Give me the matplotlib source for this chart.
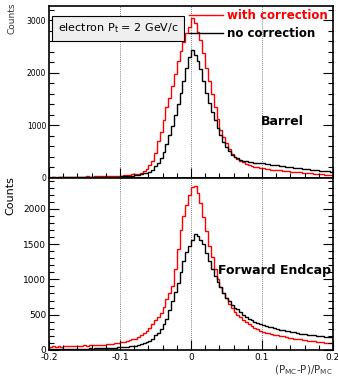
import numpy as np
import matplotlib
matplotlib.use("Agg")
import matplotlib.pyplot as plt
from matplotlib.ticker import MultipleLocator

# histogram range: 100 bins between -0.2 and 0.2
x_lo, x_hi, n_bins = -0.2, 0.2, 100

# barrel, with correction (red)
barrel_corr = [18, 16, 20, 17, 22, 19, 21, 24, 20, 23, 26, 22, 25, 28, 24, 27, 30, 33, 29, 34, 36, 38, 35, 40, 44,
               46, 50, 55, 58, 66, 72, 82, 100, 130, 175, 240, 330, 480,
               700, 880, 1110, 1340, 1530, 1740, 1980, 2230, 2420, 2590, 2760, 2880,
               3040, 2950, 2780, 2620, 2380, 2100, 1850, 1600, 1340, 1120, 920, 780,
               660, 560, 450, 400, 360, 330, 300, 270, 250, 235, 215, 200, 190,
               180, 172, 168, 160, 155, 150, 146, 140, 132, 128, 122, 118, 110, 105, 100, 96, 90, 86, 80, 74,
               70, 66, 60, 58, 52]
# barrel, no correction (black)
barrel_raw = [8, 10, 7, 11, 9, 12, 10, 13, 11, 12, 14, 13, 15, 14, 16, 18, 15, 17, 20, 18, 22, 21, 24, 23, 26,
              28, 30, 33, 38, 42, 50, 58, 70, 85, 100, 120, 160, 220,
              280, 380, 500, 650, 820, 980, 1200, 1410, 1620, 1840, 2100, 2300,
              2430, 2330, 2220, 2080, 1840, 1620, 1420, 1250, 1100, 950, 810, 690,
              590, 510, 430, 400, 370, 345, 330, 315, 300, 295, 285, 275, 280,
              275, 268, 260, 252, 245, 238, 230, 222, 215, 210, 205, 198, 190, 182, 175, 170, 165, 158, 150, 145,
              140, 135, 130, 125, 120]
# forward endcap, with correction (red)
endcap_corr = [45, 48, 44, 50, 47, 52, 50, 55, 53, 58, 56, 60, 62, 59, 64, 66, 68, 72, 70, 76, 80, 84, 88, 95, 100,
               110, 115, 125, 135, 150, 160, 185, 210, 240, 270, 310, 360, 420,
               460, 530, 610, 720, 800, 900, 1150, 1430, 1700, 1900, 2060, 2200,
               2310, 2320, 2220, 2080, 1880, 1680, 1480, 1320, 1150, 1010, 890, 800,
               730, 650, 590, 540, 500, 470, 430, 400, 370, 340, 315, 290, 270,
               255, 245, 235, 225, 215, 205, 198, 190, 182, 175, 168, 160, 155, 148, 142, 136, 130, 125, 120, 115,
               110, 106, 102, 98, 95]
# forward endcap, no correction (black)
endcap_raw = [8, 10, 12, 9, 13, 11, 14, 12, 15, 16, 14, 18, 17, 19, 20, 18, 22, 24, 23, 26, 28, 27, 30, 32, 35,
              38, 40, 44, 48, 55, 60, 68, 80, 95, 110, 125, 160, 210,
              245, 300, 360, 435, 560, 690, 820, 955, 1110, 1260, 1390, 1480,
              1560, 1650, 1610, 1560, 1500, 1380, 1260, 1150, 1050, 960, 890, 810,
              740, 690, 640, 600, 580, 540, 500, 470, 440, 420, 400, 380, 365,
              355, 340, 330, 320, 305, 295, 285, 280, 270, 262, 255, 248, 240, 232, 228, 222, 215, 210, 205, 200,
              196, 192, 188, 185, 180]

panel_names = ["Barrel", "Forward Endcap"]
legend_labels = ["with correction", "no correction"]
x_ticks = [-0.2, -0.1, 0, 0.1, 0.2]
x_tick_labels = ["-0.2", "-0.1", "0", "0.1", "0.2"]

plt.rcParams['font.family'] = ['DejaVu Sans']

edges = np.linspace(x_lo, x_hi, n_bins + 1)

fig = plt.figure(figsize=(3.38, 3.77), dpi=100)
ax_top = fig.add_axes([0.145, 0.528, 0.84, 0.456])
ax_bot = fig.add_axes([0.145, 0.072, 0.84, 0.456])


def style_axes(ax, ymax, major, minor):
    ax.set_xlim(x_lo, x_hi)
    ax.set_ylim(0, ymax)
    ax.xaxis.set_major_locator(MultipleLocator(0.1))
    ax.xaxis.set_minor_locator(MultipleLocator(0.02))
    ax.yaxis.set_major_locator(MultipleLocator(major))
    ax.yaxis.set_minor_locator(MultipleLocator(minor))
    ax.tick_params(which='both', direction='in', top=False, right=True, labelsize=6.5, pad=2, width=0.8)
    ax.tick_params(which='major', length=7)
    ax.tick_params(which='minor', length=3.5)
    for sp in ax.spines.values():
        sp.set_linewidth(1.2)
    for xv in x_ticks[1:]:
        ax.axvline(xv, color='#555555', lw=0.6, ls=(0, (1, 1.5)), zorder=0)


# top panel: barrel
ax_top.stairs(barrel_corr, edges, color='red', lw=1.0, label=legend_labels[0])
ax_top.stairs(barrel_raw, edges, color='black', lw=1.0, label=legend_labels[1])
style_axes(ax_top, 3270, 1000, 200)
ax_top.set_yticks([0, 1000, 2000, 3000])
ax_top.set_yticklabels(["0", "1000", "2000", "3000"], fontsize=5.5)
ax_top.set_xticklabels([])
ax_top.set_ylabel("Counts", fontsize=6.5, color='#333333', labelpad=8)
ax_top.yaxis.set_label_coords(-0.115, 0.93)
ax_top.text(0.82, 0.33, panel_names[0], transform=ax_top.transAxes, fontsize=9,
            fontweight='bold', ha='center', va='center')
ax_top.text(0.03, 0.87, r"electron P$_{\mathregular{t}}$ = 2 GeV/c", transform=ax_top.transAxes,
            fontsize=8, ha='left', va='center',
            bbox=dict(boxstyle='square,pad=0.5', fc='#efefef', ec='black', lw=0.8))
leg = ax_top.legend(loc='upper right', bbox_to_anchor=(1.02, 1.045), frameon=False,
                    handlelength=2.8, handletextpad=0.4, labelspacing=0.45,
                    prop={'size': 8.5, 'weight': 'bold'})
for txt, col in zip(leg.get_texts(), ['red', 'black']):
    txt.set_color(col)

# bottom panel: forward endcap
ax_bot.stairs(endcap_corr, edges, color='red', lw=1.0)
ax_bot.stairs(endcap_raw, edges, color='black', lw=1.0)
style_axes(ax_bot, 2440, 500, 100)
ax_bot.set_xticks(x_ticks)
ax_bot.set_xticklabels(x_tick_labels, fontsize=6.5)
ax_bot.tick_params(axis='y', labelsize=6.5)
ax_bot.set_ylabel("Counts", fontsize=8, labelpad=6)
ax_bot.yaxis.set_label_coords(-0.12, 0.9)
ax_bot.text(0.595, 0.46, panel_names[1], transform=ax_bot.transAxes, fontsize=9,
            fontweight='bold', ha='left', va='center', clip_on=False)
ax_bot.set_xlabel(r"(P$_{\mathregular{MC}}$-P)/P$_{\mathregular{MC}}$", fontsize=7.5, color='#333333')
ax_bot.xaxis.set_label_coords(1.0, -0.08)
ax_bot.xaxis.label.set_ha('right')

fig.savefig("out.png", dpi=100)
